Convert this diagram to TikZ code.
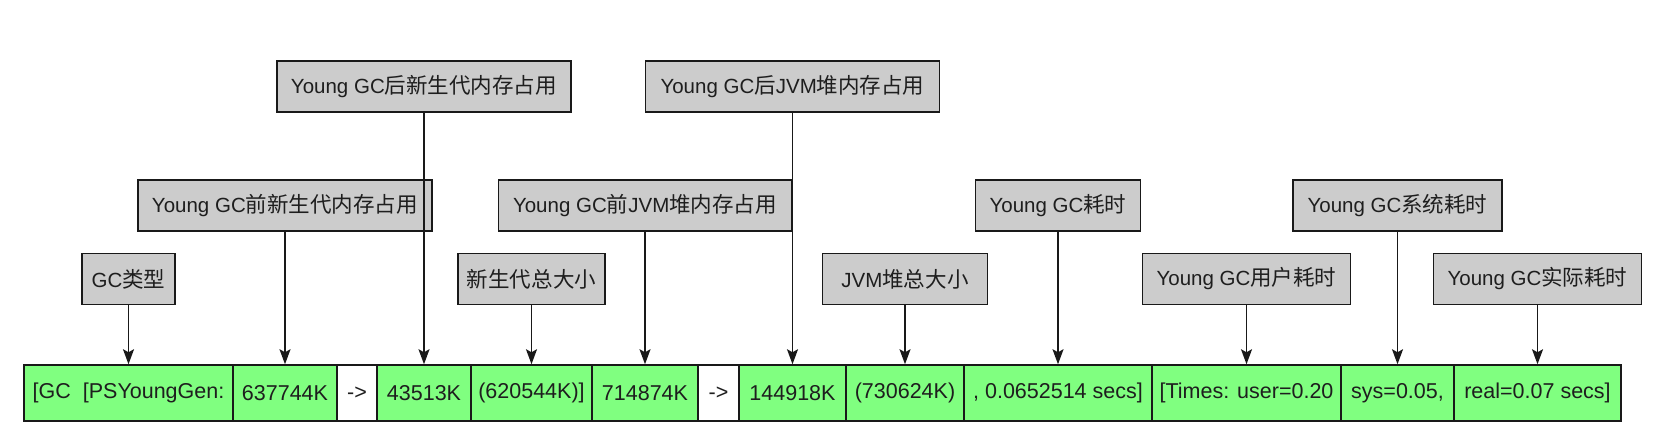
\documentclass[tikz,border=0pt]{standalone}
\usepackage{fontspec}
\setmainfont{Liberation Sans}
\newfontfamily\cjk[Scale=1.05]{Noto Sans CJK SC}
\usetikzlibrary{arrows.meta}
\definecolor{boxgray}{RGB}{204,204,204}
\definecolor{cellgreen}{RGB}{128,255,128}
\definecolor{txt}{RGB}{30,30,30}
\tikzset{
  lbl/.style={draw=black!90, line width=1.5pt, fill=boxgray, inner sep=0pt,
    minimum height=51pt, text=txt, font=\fontsize{20.5pt}{24pt}\selectfont},
  cell/.style={draw=black!90, line width=1.5pt, fill=cellgreen, inner sep=0pt,
    minimum height=56pt, text=txt, font=\fontsize{21.5pt}{25pt}\selectfont},
  wcell/.style={cell, fill=white},
  arr/.style={draw=black!90, line width=1.5pt, -{Stealth[length=15pt,width=11pt,inset=3pt]}}
}
\begin{document}
\begin{tikzpicture}[x=1pt,y=-1pt]
\useasboundingbox (0,0) rectangle (1661,431);
% bottom row
\node[cell, minimum width=209pt] (c1) at (128.5,393) {[GC~~[PSYoungGen:};
\node[cell, minimum width=104pt] (c2) at (285,393) {637744K};
\node[wcell, minimum width=40pt] (c3) at (357,393) {->};
\node[cell, minimum width=94pt] (c4) at (424,393) {43513K};
\node[cell, minimum width=121pt] (c5) at (531.5,393) {(620544K)]};
\node[cell, minimum width=106pt] (c6) at (645,393) {714874K};
\node[wcell, minimum width=41pt] (c7) at (718.5,393) {->};
\node[cell, minimum width=107pt] (c8) at (792.5,393) {144918K};
\node[cell, minimum width=118pt] (c9) at (905,393) {(730624K)};
\node[cell, minimum width=188pt] (c10) at (1058,393) {, 0.0652514 secs]};
\node[cell, minimum width=189pt] (c11) at (1246.5,393) {[Times: user=0.20};
\node[cell, minimum width=113pt] (c12) at (1397.5,393) {sys=0.05,};
\node[cell, minimum width=167pt] (c13) at (1537.5,393) {real=0.07 secs]};
% label boxes
\node[lbl, minimum width=93pt] (g1) at (128.5,279) {GC{\cjk 类型}};
\node[lbl, minimum width=147pt] (g2) at (531.5,279) {{\cjk 新生代总大小}};
\node[lbl, minimum width=165pt] (g3) at (905,279) {JVM{\cjk 堆总大小}};
\node[lbl, minimum width=208pt] (g4) at (1246.5,279) {Young GC{\cjk 用户耗时}};
\node[lbl, minimum width=208pt] (g5) at (1537.5,279) {Young GC{\cjk 实际耗时}};
\node[lbl, minimum width=294pt] (m1) at (285,205.5) {Young GC{\cjk 前新生代内存占用}};
\node[lbl, minimum width=293pt] (m2) at (645,205.5) {Young GC{\cjk 前}JVM{\cjk 堆内存占用}};
\node[lbl, minimum width=165pt] (m3) at (1058,205.5) {Young GC{\cjk 耗时}};
\node[lbl, minimum width=209pt] (m4) at (1397.5,205.5) {Young GC{\cjk 系统耗时}};
\node[lbl, minimum width=294pt] (t1) at (424,86.5) {Young GC{\cjk 后新生代内存占用}};
\node[lbl, minimum width=294pt] (t2) at (792.5,86.5) {Young GC{\cjk 后}JVM{\cjk 堆内存占用}};
% connectors
\draw[arr] (g1.south) -- (c1.north);
\draw[arr] (g2.south) -- (c5.north);
\draw[arr] (g3.south) -- (c9.north);
\draw[arr] (g4.south) -- (c11.north);
\draw[arr] (g5.south) -- (c13.north);
\draw[arr] (m1.south) -- (c2.north);
\draw[arr] (m2.south) -- (c6.north);
\draw[arr] (m3.south) -- (c10.north);
\draw[arr] (m4.south) -- (c12.north);
\draw[arr] (t1.south) -- (c4.north);
\draw[arr] (t2.south) -- (c8.north);
\end{tikzpicture}
\end{document}
